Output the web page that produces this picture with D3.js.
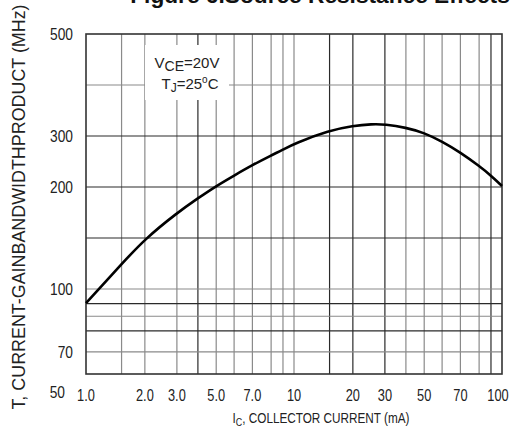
<!DOCTYPE html>
<html>
<head>
<meta charset="utf-8">
<script src="https://cdn.jsdelivr.net/npm/d3@7"></script>
<style>
  html, body { margin: 0; padding: 0; background: #fff; }
  svg { display: block; }
  text { font-family: "Liberation Sans", Arial, sans-serif; fill: #222; }
</style>
</head>
<body>
<svg id="chart" width="513" height="436"></svg>
<script>
// ---- data ----
const currentMA = [1, 1.5, 2, 3, 4, 5, 6, 7, 8, 9, 10, 15, 20, 26, 30, 40, 50, 60, 70, 80, 90, 100];
const fTMHz     = [93.3, 124.5, 149, 174.5, 189, 202, 222.5, 243, 262, 273, 285, 311, 320, 323.5, 323, 316.6, 306.3, 289.2, 267.8, 241.2, 222.5, 202];

const xTickValues = [1, 2, 3, 5, 7, 10, 20, 30, 50, 70, 100];
const xGridValues = [1.5, 2, 3, 4, 5, 6, 7, 8, 9, 10, 15, 20, 30, 40, 50, 60, 70, 80, 90];
const yTickValues = [500, 300, 200, 100, 70, 50];
const yGridValues = [400, 300, 200, 150, 100, 93, 87, 80, 70];

const titleText = "Figure 6.Source Resistance Effects";
const yTitle = "T, CURRENT-GAINBANDWIDTHPRODUCT (MHz)";
const xTitleMain = "I", xTitleSub = "C", xTitleRest = ", COLLECTOR CURRENT (mA)";

// ---- layout ----
const margin = { top: 34, left: 86 };
const W = 416, H = 340;
const svg = d3.select("#chart");
const g = svg.append("g").attr("transform", `translate(${margin.left},${margin.top})`);

// chart-paper scales (the printed grid is a distorted log paper)
const mantissa = d3.scaleLinear()
  .domain([1, 1.5, 2, 3, 4, 5, 6, 7, 8, 9, 10])
  .range([0, .171, .283, .437, .538, .626, .712, .80, .89, .947, 1]);
const decade = d3.scaleLinear().domain([0, 2]).range([0, W]);
const x = v => {
  const e = Math.floor(Math.log10(v) + 1e-9);
  return decade(e + mantissa(v / Math.pow(10, e)));
};
const y = d3.scaleLinear()
  .domain([50, 70, 100, 200, 300, 500])
  .range([1.053, .935, .75, .45, .30, 0].map(f => f * H));

// ---- grid ----
const darkX = new Set([4, 15, 20, 30, 90]);
const darkY = new Set([300, 200, 150, 93, 80]);
g.append("g").selectAll("line").data(xGridValues).join("line")
  .attr("x1", d => x(d)).attr("x2", d => x(d))
  .attr("y1", 0).attr("y2", H)
  .attr("stroke", d => darkX.has(d) ? "#2a2a2a" : "#8a8a8a")
  .attr("stroke-width", 1.2);
g.append("g").selectAll("line").data(yGridValues).join("line")
  .attr("x1", 0).attr("x2", W)
  .attr("y1", d => y(d)).attr("y2", d => y(d))
  .attr("stroke", d => darkY.has(d) ? "#2a2a2a" : "#8a8a8a")
  .attr("stroke-width", 1.2);

// ---- legend box ----
const leg = g.append("g");
leg.append("rect").attr("x", 59).attr("y", 11).attr("width", 84).attr("height", 55).attr("fill", "#fff");
const t1 = leg.append("text").attr("x", 101).attr("y", 34)
  .attr("text-anchor", "middle").attr("font-size", 15);
t1.append("tspan").text("V");
t1.append("tspan").attr("dy", 3).attr("font-size", 14).text("CE");
t1.append("tspan").attr("dy", -3).text("=20V");
const t2 = leg.append("text").attr("x", 104).attr("y", 55)
  .attr("text-anchor", "middle").attr("font-size", 15);
t2.append("tspan").text("T");
t2.append("tspan").attr("dy", 3).attr("font-size", 12).text("J");
t2.append("tspan").attr("dy", -3).text("=25");
t2.append("tspan").attr("dy", -6).attr("font-size", 10).text("o");
t2.append("tspan").attr("dy", 6).text("C");

// ---- frame ----
g.append("rect").attr("x", 0).attr("y", 0).attr("width", W).attr("height", H)
  .attr("fill", "none").attr("stroke", "#333").attr("stroke-width", 1.6);

// ---- curve ----
const pts = currentMA.map((c, i) => [c, fTMHz[i]]);
g.append("path").datum(pts)
  .attr("fill", "none").attr("stroke", "#000").attr("stroke-width", 2.6)
  .attr("stroke-linejoin", "round")
  .attr("d", d3.line().x(d => x(d[0])).y(d => y(d[1])).curve(d3.curveBasis));

// ---- tick labels (condensed face) ----
const lastX = xTickValues[xTickValues.length - 1];
g.append("g").selectAll("text").data(xTickValues).join("text")
  .attr("transform", d => `translate(${x(d) - (d === lastX ? 4 : 0)},${H + 27}) scale(0.8,1)`)
  .attr("text-anchor", "middle").attr("font-size", 16)
  .text(d => d < 10 ? d.toFixed(1) : d);
const lastY = yTickValues[yTickValues.length - 1];
g.append("g").selectAll("text").data(yTickValues).join("text")
  .attr("transform", d => `translate(${d === lastY ? -21 : -13},${y(d)}) scale(0.86,1)`)
  .attr("dy", "0.36em")
  .attr("text-anchor", "end").attr("font-size", 16)
  .text(d => d);

// ---- axis titles ----
const xt = svg.append("text")
  .attr("transform", "translate(321,423) scale(0.81,1)")
  .attr("text-anchor", "middle").attr("font-size", 14.5);
xt.append("tspan").text(xTitleMain);
xt.append("tspan").attr("dy", 3).attr("font-size", 11).text(xTitleSub);
xt.append("tspan").attr("dy", -3).text(xTitleRest);

svg.append("text")
  .attr("transform", "translate(25,207) rotate(-90)")
  .attr("text-anchor", "middle")
  .attr("font-size", 17.9)
  .text(yTitle);

svg.append("text")
  .attr("x", 320).attr("y", 3).attr("text-anchor", "middle")
  .attr("font-weight", "bold").attr("font-size", 22.7).style("fill", "#111")
  .text(titleText);
</script>
</body>
</html>
